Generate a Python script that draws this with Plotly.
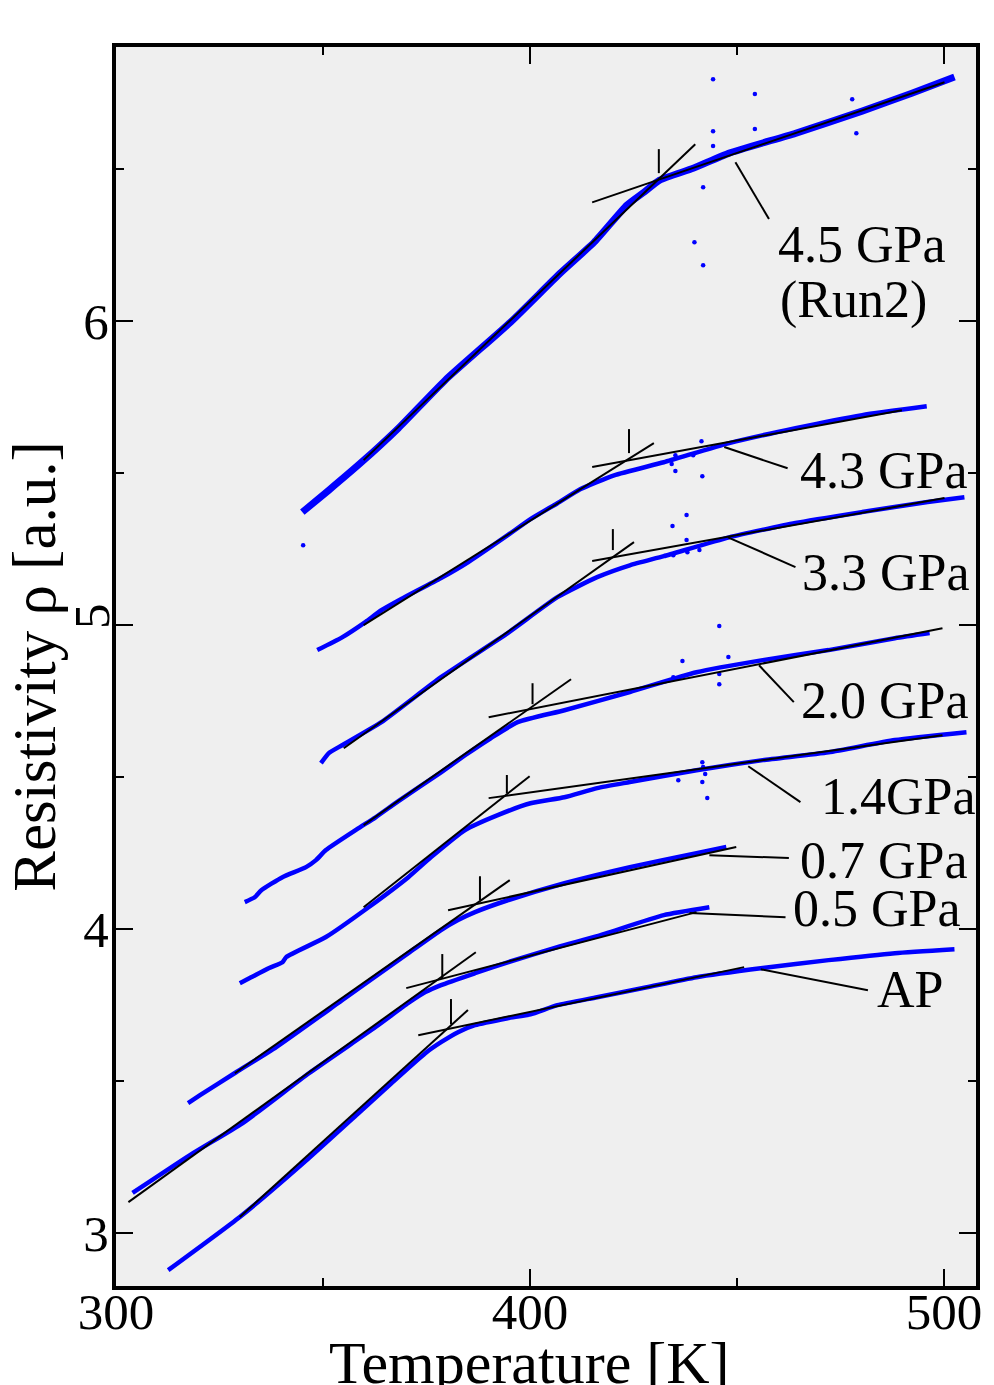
import plotly.graph_objects as go

FONT = "Liberation Serif"
BLUE = "#0000ff"

# ---------------- measured resistivity curves (T [K], rho [a.u.]) ----------------
T_AP = [312.6, 329.9, 346.6, 358.6, 366.5, 374.7, 378.5, 382.6, 386.7, 394.6, 400.1, 406.6, 416.2, 428.2, 440.2, 456.2, 472.1, 488.1, 502.5]
R_AP = [2.878, 3.053, 3.247, 3.395, 3.493, 3.592, 3.628, 3.661, 3.684, 3.707, 3.720, 3.750, 3.776, 3.809, 3.842, 3.872, 3.898, 3.921, 3.934]

T_05 = [304.0, 318.6, 330.6, 346.6, 362.7, 370.6, 374.7, 378.5, 386.7, 394.6, 406.6, 416.2, 432.3, 443.3]
R_05 = [3.132, 3.263, 3.362, 3.526, 3.678, 3.757, 3.793, 3.816, 3.855, 3.891, 3.941, 3.977, 4.046, 4.072]

T_07 = [317.4, 320.3, 329.1, 338.7, 354.6, 370.6, 378.5, 382.6, 386.7, 394.6, 408.3, 424.1, 440.2, 447.4]
R_07 = [3.428, 3.454, 3.530, 3.612, 3.766, 3.921, 3.997, 4.030, 4.056, 4.095, 4.151, 4.204, 4.250, 4.270]

T_14 = [329.9, 332.3, 337.0, 340.2, 341.1, 350.7, 361.0, 370.6, 376.1, 384.3, 392.2, 400.1, 408.3, 416.2, 424.1, 440.2, 456.2, 472.1, 488.1, 505.4]
R_14 = [3.822, 3.839, 3.872, 3.891, 3.908, 3.974, 4.072, 4.171, 4.237, 4.326, 4.375, 4.414, 4.434, 4.464, 4.484, 4.523, 4.556, 4.582, 4.622, 4.648]

T_20 = [331.1, 333.5, 335.1, 340.2, 345.9, 348.3, 350.7, 358.6, 362.7, 368.2, 378.5, 384.3, 390.5, 397.0, 408.3, 424.1, 440.2, 456.2, 472.1, 488.1, 496.5]
R_20 = [4.089, 4.105, 4.128, 4.171, 4.204, 4.227, 4.260, 4.332, 4.368, 4.421, 4.516, 4.572, 4.628, 4.681, 4.720, 4.780, 4.845, 4.885, 4.918, 4.957, 4.974]

T_33 = [349.5, 351.4, 354.6, 364.1, 378.5, 394.6, 406.6, 416.2, 424.1, 432.3, 448.1, 464.1, 480.2, 496.0, 504.9]
R_33 = [4.546, 4.579, 4.605, 4.681, 4.829, 4.974, 5.092, 5.158, 5.197, 5.227, 5.289, 5.336, 5.372, 5.405, 5.421]

T_43 = [348.6, 354.6, 360.3, 364.1, 368.9, 378.5, 385.0, 394.6, 400.1, 406.6, 412.1, 420.3, 432.3, 448.1, 464.1, 480.2, 495.8]
R_43 = [4.918, 4.960, 5.011, 5.049, 5.086, 5.155, 5.207, 5.296, 5.349, 5.401, 5.447, 5.493, 5.536, 5.599, 5.648, 5.691, 5.720]

T_45 = [345.0, 351.4, 359.3, 368.2, 379.5, 395.3, 407.3, 415.5, 423.4, 427.5, 431.3, 439.4, 448.1, 464.1, 480.2, 492.2, 502.5]
R_45 = [5.372, 5.444, 5.536, 5.648, 5.806, 5.997, 6.158, 6.260, 6.382, 6.424, 6.464, 6.503, 6.553, 6.618, 6.691, 6.750, 6.803]

# ---------------- stray (outlier) data points ----------------
OUT_T_45 = [345.2, 444.2, 454.3, 444.2, 444.2, 454.3, 441.8, 439.7, 441.8, 477.8, 478.8]
OUT_R_45 = [5.263, 6.796, 6.747, 6.625, 6.576, 6.632, 6.441, 6.260, 6.184, 6.730, 6.618]
OUT_T_43 = [435.1, 435.1, 441.4, 441.6, 439.4, 434.2]
OUT_R_43 = [5.559, 5.507, 5.605, 5.490, 5.559, 5.530]
OUT_T_33 = [434.4, 437.8, 437.8, 434.6, 438.0, 440.9]
OUT_R_33 = [5.326, 5.362, 5.280, 5.230, 5.240, 5.247]
OUT_T_20 = [445.7, 436.8, 447.9, 445.7, 434.6, 445.7]
OUT_R_20 = [4.997, 4.882, 4.895, 4.806, 4.829, 4.839]
OUT_T_14 = [441.6, 435.8, 441.6, 442.8, 442.3, 441.8]
OUT_R_14 = [4.549, 4.490, 4.484, 4.431, 4.510, 4.533]

# ---------------- linear fits (low-T and high-T) and transition marks ----------------
LO_T_AP, LO_R_AP = [329.9, 385.0], [3.053, 3.734]
HI_T_AP, HI_R_AP = [373.0, 451.7], [3.651, 3.875]
LO_T_05, LO_R_05 = [303.0, 386.9], [3.102, 3.924]
HI_T_05, HI_R_05 = [370.1, 440.2], [3.806, 4.056]
LO_T_07, LO_R_07 = [328.7, 395.1], [3.526, 4.161]
HI_T_07, HI_R_07 = [380.2, 449.8], [4.062, 4.270]
LO_T_14, LO_R_14 = [359.8, 399.9], [4.072, 4.503]
HI_T_14, HI_R_14 = [390.0, 499.6], [4.431, 4.638]
LO_T_20, LO_R_20 = [359.8, 409.9], [4.342, 4.822]
HI_T_20, HI_R_20 = [390.0, 499.6], [4.697, 4.990]
LO_T_33, LO_R_33 = [355.0, 425.1], [4.595, 5.273]
HI_T_33, HI_R_33 = [415.0, 500.1], [5.211, 5.418]
LO_T_43, LO_R_43 = [359.8, 429.9], [5.000, 5.599]
HI_T_43, HI_R_43 = [415.0, 489.8], [5.520, 5.707]
LO_T_45, LO_R_45 = [359.8, 439.9], [5.543, 6.582]
HI_T_45, HI_R_45 = [415.0, 500.1], [6.391, 6.786]

TC = [380.9, 378.8, 387.9, 394.4, 400.6, 420.0, 423.9, 431.1]
TC_R0 = [3.687, 3.836, 4.095, 4.447, 4.740, 5.247, 5.566, 6.487]
TC_R1 = [3.770, 3.918, 4.174, 4.507, 4.809, 5.316, 5.645, 6.566]

# ---------------- labels and leader lines ----------------
LABELS = ["AP", "0.5 GPa", "0.7 GPa", "1.4GPa", "2.0 GPa", "3.3 GPa", "4.3 GPa", "4.5 GPa", "(Run2)"]
LABEL_T = [483.3, 462.9, 464.6, 469.7, 464.9, 465.3, 464.6, 459.3, 459.8]
LABEL_R = [3.803, 4.069, 4.227, 4.437, 4.753, 5.174, 5.510, 6.253, 6.069]
LEAD_T0 = [455.7, 438.5, 443.3, 452.7, 455.3, 447.8, 446.9, 449.6]
LEAD_R0 = [3.868, 4.053, 4.243, 4.536, 4.868, 5.289, 5.586, 6.523]
LEAD_T1 = [481.6, 461.7, 462.5, 465.3, 463.7, 464.1, 462.2, 457.7]
LEAD_R1 = [3.799, 4.039, 4.234, 4.418, 4.747, 5.191, 5.516, 6.336]

X_TICKS = [300, 400, 500]
X_MINOR = [350, 450]
Y_TICKS = [3, 4, 5, 6]
Y_TICKTEXT = ["3", "4", "", "6"]
Y_MINOR = [3.5, 4.5, 5.5, 6.5]

# ---------------- figure ----------------
fig = go.Figure()

curves_T = [T_AP, T_05, T_07, T_14, T_20, T_33, T_43, T_45]
curves_R = [R_AP, R_05, R_07, R_14, R_20, R_33, R_43, R_45]
for i, (t, r) in enumerate(zip(curves_T, curves_R)):
    fig.add_trace(go.Scatter(x=t, y=r, mode="lines",
                             line=dict(color=BLUE, width=7 if i == 7 else 4.5,
                                       shape="spline", smoothing=0.5),
                             hoverinfo="skip", showlegend=False))

for t, r in [(OUT_T_45, OUT_R_45), (OUT_T_43, OUT_R_43), (OUT_T_33, OUT_R_33),
             (OUT_T_20, OUT_R_20), (OUT_T_14, OUT_R_14)]:
    fig.add_trace(go.Scatter(x=t, y=r, mode="markers",
                             marker=dict(color=BLUE, size=4.5, line=dict(width=0)),
                             hoverinfo="skip", showlegend=False))

fits = [(LO_T_AP, LO_R_AP), (HI_T_AP, HI_R_AP), (LO_T_05, LO_R_05), (HI_T_05, HI_R_05),
        (LO_T_07, LO_R_07), (HI_T_07, HI_R_07), (LO_T_14, LO_R_14), (HI_T_14, HI_R_14),
        (LO_T_20, LO_R_20), (HI_T_20, HI_R_20), (LO_T_33, LO_R_33), (HI_T_33, HI_R_33),
        (LO_T_43, LO_R_43), (HI_T_43, HI_R_43), (LO_T_45, LO_R_45), (HI_T_45, HI_R_45)]
for t, r in fits:
    fig.add_trace(go.Scatter(x=t, y=r, mode="lines", line=dict(color="black", width=2),
                             hoverinfo="skip", showlegend=False))

for tc, r0, r1 in zip(TC, TC_R0, TC_R1):
    fig.add_trace(go.Scatter(x=[tc, tc], y=[r0, r1], mode="lines",
                             line=dict(color="black", width=2),
                             hoverinfo="skip", showlegend=False))

for t0, r0, t1, r1 in zip(LEAD_T0, LEAD_R0, LEAD_T1, LEAD_R1):
    fig.add_trace(go.Scatter(x=[t0, t1], y=[r0, r1], mode="lines",
                             line=dict(color="black", width=2),
                             hoverinfo="skip", showlegend=False))

annotations = []
for txt, t, r in zip(LABELS, LABEL_T, LABEL_R):
    annotations.append(dict(x=t, y=r, xref="x", yref="y", text=txt, showarrow=False,
                            xanchor="left", yanchor="middle",
                            font=dict(family=FONT, size=52, color="black")))
# rotated "5" tick label, as in the original
annotations.append(dict(x=-0.028, y=5.03, xref="paper", yref="y", text="5", showarrow=False,
                        textangle=-90, xanchor="center", yanchor="middle",
                        font=dict(family=FONT, size=51, color="black")))
# axis titles
annotations.append(dict(x=-0.095, y=0.5, xref="paper", yref="paper",
                        text="Resistivity ρ [a.u.]", showarrow=False, textangle=-90,
                        xanchor="center", yanchor="middle",
                        font=dict(family=FONT, size=61, color="black")))
annotations.append(dict(x=0.481, y=-0.034, xref="paper", yref="paper",
                        text="Temperature [K]", showarrow=False,
                        xanchor="center", yanchor="top",
                        font=dict(family=FONT, size=60, color="black")))

axis_common = dict(ticks="inside", ticklen=17, tickwidth=2, tickcolor="black",
                   showline=True, linewidth=4, linecolor="black", mirror="allticks",
                   showgrid=False, zeroline=False,
                   tickfont=dict(family=FONT, size=51, color="black"))

# the page body adds an 8 px offset; the figure is sized to fill the remaining window
fig.update_layout(
    width=986, height=1377,
    margin=dict(l=108, r=12, t=39, b=99),
    paper_bgcolor="white", plot_bgcolor="#efefef",
    showlegend=False,
    font=dict(family=FONT, color="black"),
    annotations=annotations,
    xaxis=dict(range=[300.0, 507.7], tickvals=X_TICKS, ticktext=[str(v) for v in X_TICKS],
               ticklabelstandoff=-22,
               minor=dict(tickvals=X_MINOR, ticks="inside", ticklen=8, tickwidth=2,
                          tickcolor="black", showgrid=False),
               **axis_common),
    yaxis=dict(range=[2.826, 6.902], tickvals=Y_TICKS, ticktext=Y_TICKTEXT,
               ticklabelstandoff=-7,
               minor=dict(tickvals=Y_MINOR, ticks="inside", ticklen=8, tickwidth=2,
                          tickcolor="black", showgrid=False),
               **axis_common),
)

fig.write_html("out.html")
